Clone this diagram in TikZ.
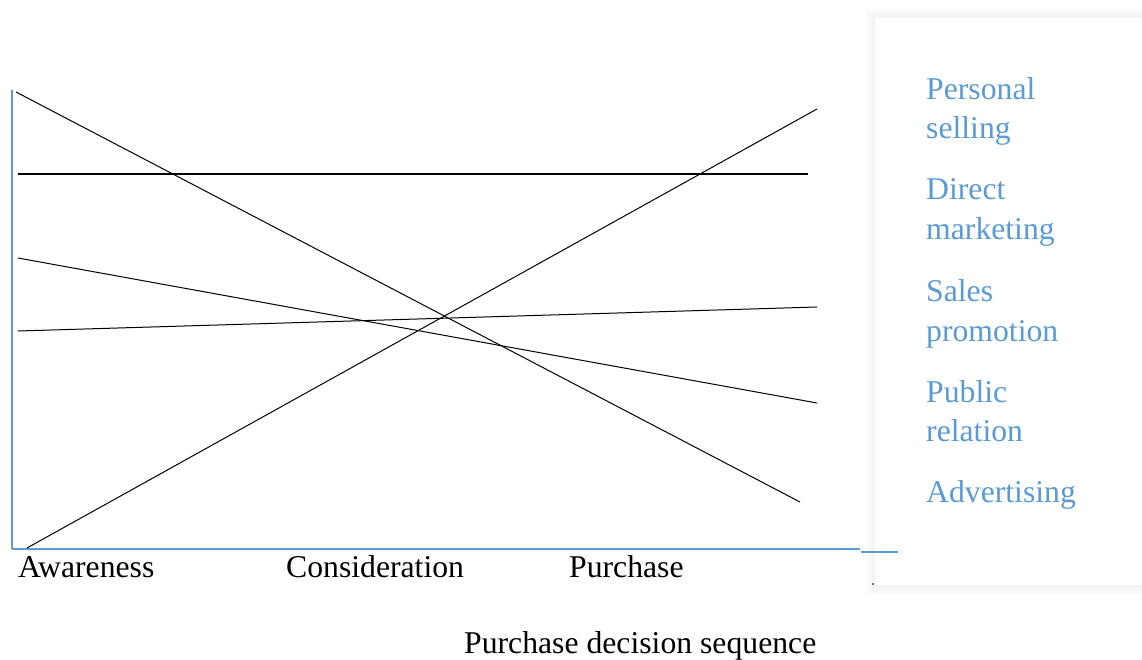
\documentclass[tikz,border=0pt]{standalone}
\usepackage{fontspec}
\setmainfont{Liberation Serif}
\definecolor{axisblue}{HTML}{5B9BD5}
\definecolor{legblue}{HTML}{5B9BD5}
\begin{document}
\begin{tikzpicture}[x=1pt,y=-1pt,
  axis/.style={draw=axisblue,line width=2pt},
  trend/.style={draw=black,line width=1pt},
  lbl/.style={anchor=base west,inner sep=0pt,font=\fontsize{31.7}{38}\selectfont},
  leg/.style={lbl,text=legblue}]
\useasboundingbox (0,0) rectangle (1142,660);
% legend box with soft shadow
\foreach \i/\c in {8/1.5,6/2.5,4/3.5,2/4.5}{
  \fill[black!\c] (874-\i,17-\i) rectangle (1150,586+\i);
}
\fill[white] (875,18) rectangle (1150,585);
% axes
\coordinate (o) at (12,549);
\coordinate (ytop) at (12,90);
\coordinate (xend) at (860,549);
\coordinate (x2a) at (861,552);
\coordinate (x2b) at (898,552);
\draw[axis] (ytop) -- (o);
\draw[axis] (o) -- (xend);
\draw[axis] (x2a) -- (x2b);
% trend lines
\coordinate (a1) at (16,92);   \coordinate (a2) at (800,502);
\coordinate (b1) at (18,174);  \coordinate (b2) at (808,174);
\coordinate (c1) at (18,258);  \coordinate (c2) at (817,403);
\coordinate (d1) at (18,331);  \coordinate (d2) at (817,307);
\coordinate (e1) at (27,548);  \coordinate (e2) at (817,109);
\draw[trend] (a1) -- (a2);
\draw[trend,line width=1.7pt] (b1) -- (b2);
\draw[trend] (c1) -- (c2);
\draw[trend] (d1) -- (d2);
\draw[trend] (e1) -- (e2);
% axis labels
\node[lbl] (aw) at (18,577) {Awareness};
\node[lbl] (co) at (286,577) {Consideration};
\node[lbl] (pu) at (569,577) {Purchase};
\node[lbl] (seq) at (464,653) {Purchase decision sequence};
% legend entries
\node[leg] (l1) at (926,100) {Personal};
\node[leg] (l1b) at (926,139) {selling};
\node[leg] (l2) at (926,200) {Direct};
\node[leg] (l2b) at (926,240) {marketing};
\node[leg] (l3) at (926,301) {Sales};
\node[leg] (l3b) at (926,341) {promotion};
\node[leg] (l4) at (926,402) {Public};
\node[leg] (l4b) at (926,441) {relation};
\node[leg] (l5) at (926,502) {Advertising};
\fill[black!70] (873,584) circle (1.2pt);
\end{tikzpicture}
\end{document}
